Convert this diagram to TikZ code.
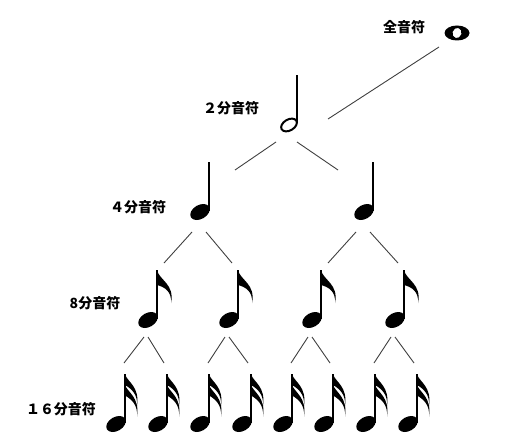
\documentclass[tikz,border=0pt]{standalone}
\usepackage{fontspec}
\newfontfamily\jpfont{Noto Sans CJK JP}
\usetikzlibrary{calc}

\tikzset{
  wholenote/.pic={\fill[even odd rule] (0,0) ellipse (12.5 and 7.5) [rotate=-15] (0,0) ellipse (4.5 and 5.2);},
  halfnote/.pic={\draw[line width=2, rotate=30] (0,0) ellipse (8.5 and 5.5);
                 \draw[line width=1.6] (8,-2) -- (8,-50);},
  quarternote/.pic={\fill[rotate=30] (0,0) ellipse (10.5 and 7);
                    \draw[line width=2.2] (9,-1) -- (9,-50);},
  eighthnote/.pic={\pic {quarternote};
                   \fill (9,-50) .. controls (11,-40) and (27,-36) .. (23,-17)
                         .. controls (24,-28) and (17,-33) .. (9,-35) -- cycle;},
  sixteenthnote/.pic={\pic {quarternote};
                      \foreach \d in {0,10.5}
                        \fill (9,-50+\d) .. controls (11,-42+\d) and (24,-38+\d) .. (21,-18+\d)
                              .. controls (22,-29+\d) and (16,-35+\d) .. (9,-39+\d) -- cycle;}
}

\begin{document}
\begin{tikzpicture}[x=1pt, y=-1pt,
    branch/.style={line width=0.9pt, black!75},
    notename/.style={font=\jpfont\bfseries\fontsize{14}{14}\selectfont, inner sep=0pt}]
  \useasboundingbox (0,0) rectangle (517,436);

  % notes
  \coordinate (w) at (457,33);
  \coordinate (h) at (289,125);
  \coordinate (q1) at (200,212);
  \coordinate (q2) at (364,212);
  \foreach \n/\x in {1/148,2/229,3/312,4/395}
    \coordinate (e\n) at (\x,320);
  \foreach \n/\x in {1/116,2/158,3/200,4/242,5/283,6/324,7/366,8/408}
    \coordinate (s\n) at (\x,424);

  \pic at (w) {wholenote};
  \pic at (h) {halfnote};
  \pic at (q1) {quarternote};
  \pic at (q2) {quarternote};
  \foreach \n in {1,...,4} \pic at (e\n) {eighthnote};
  \foreach \n in {1,...,8} \pic at (s\n) {sixteenthnote};

  % labels
  \node[notename] (lw) at (404,27) {全音符};
  \node[notename] (lh) at (231,108) {２分音符};
  \node[notename] (lq) at (138,207) {４分音符};
  \node[notename] (le) at (95,303) {8分音符};
  \node[notename] (ls) at (61,409) {１６分音符};

  % branches
  \draw[branch] ($(w)+(-18,14)$) -- ($(h)+(39,-6)$);
  \draw[branch] ($(h)+(-13,17)$) -- ($(q1)+(35,-42)$);
  \draw[branch] ($(h)+(8,17)$) -- ($(q2)+(-26,-42)$);
  \foreach \p/\l/\r in {q1/e1/e2, q2/e3/e4} {
    \draw[branch] ($(\p)+(-8,20)$) -- ($(\l)+(16,-57)$);
    \draw[branch] ($(\p)+(6,20)$) -- ($(\r)+(3,-57)$);
  }
  \foreach \p/\l/\r in {e1/s1/s2, e2/s3/s4, e3/s5/s6, e4/s7/s8} {
    \draw[branch] ($(\p)+(-4,17)$) -- ($(\l)+(8,-61)$);
    \draw[branch] ($(\p)+(0,17)$) -- ($(\r)+(6,-61)$);
  }
\end{tikzpicture}
\end{document}
